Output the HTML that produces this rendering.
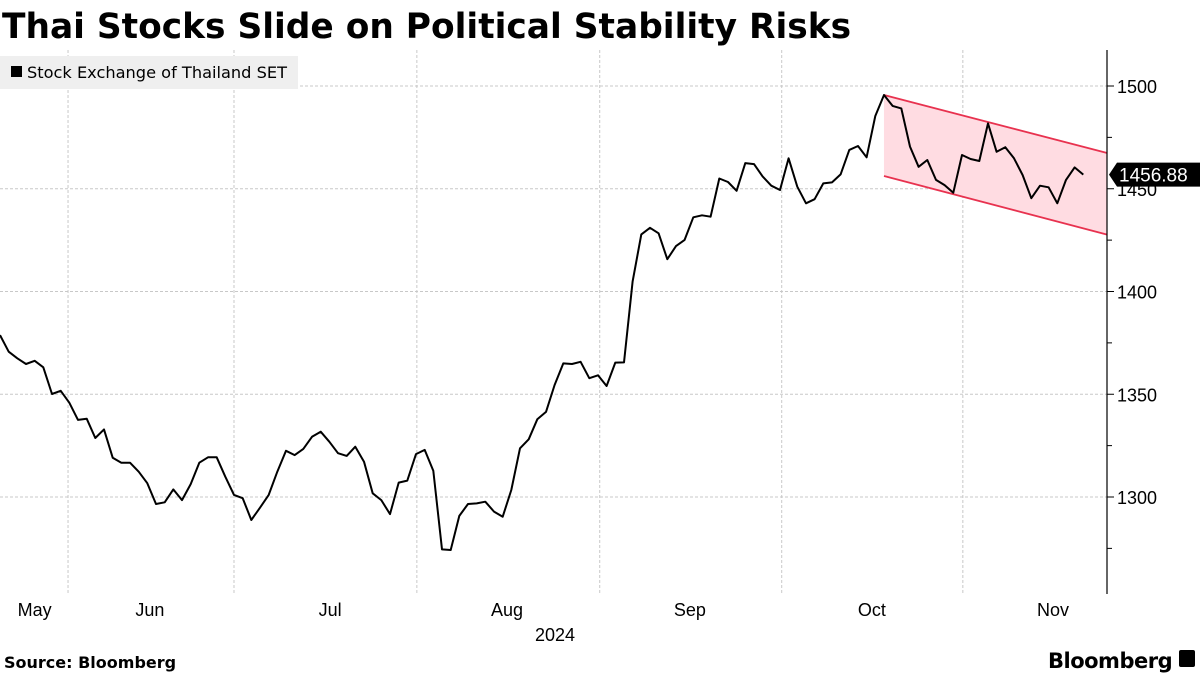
<!DOCTYPE html>
<html><head><meta charset="utf-8"><style>
body{margin:0;background:#fff;width:1200px;height:675px;overflow:hidden;font-family:"Liberation Sans",sans-serif}
svg{position:absolute;left:0;top:0}
</style></head><body>
<svg id="c" width="1200" height="675">
<text x="2" y="38" font-size="34.4" font-weight="bold" font-family="DejaVu Sans, Liberation Sans, sans-serif">Thai Stocks Slide on Political Stability Risks</text>
<g id="grid"></g>
<rect x="0" y="56" width="298" height="33" fill="#efefef"/>
<rect x="11" y="66" width="11" height="11" fill="#000"/>
<text x="27" y="78" font-size="16.2" font-family="DejaVu Sans, sans-serif">Stock Exchange of Thailand SET</text>
<g id="marks"></g>
<line x1="1107" y1="50" x2="1107" y2="594" stroke="#000" stroke-width="1.2"/>
<g id="yaxis"></g>
<g id="xaxis"></g>
<text x="555" y="641" font-size="18" text-anchor="middle">2024</text>
<text x="4" y="668" font-size="16" font-weight="bold" font-family="DejaVu Sans, sans-serif">Source: Bloomberg</text>
<text x="1048" y="668" font-size="21" font-weight="bold" font-family="DejaVu Sans, sans-serif" letter-spacing="-0.5">Bloomberg</text>
<rect x="1179" y="650" width="16" height="17" rx="2" fill="#000"/>
</svg>
<script>
const values=[1378.8,1370.7,1367.5,1364.7,1366.3,1363.1,1350.1,1351.7,1345.9,1337.5,1338.1,1328.7,1332.9,1319.1,1316.7,1316.7,1312.3,1306.7,1296.6,1297.4,1303.7,1298.5,1306.3,1316.7,1319.3,1319.3,1309.9,1301,1299.4,1288.8,1294.8,1301,1312.3,1322.5,1320.4,1323.4,1329.3,1331.8,1326.9,1321.3,1320,1324.5,1317.2,1301.8,1298.5,1291.7,1307,1308,1320.9,1322.9,1312.8,1274.5,1274.2,1290.8,1296.6,1296.9,1297.7,1292.9,1290.4,1303.4,1323.7,1328.1,1337.8,1341.4,1354.5,1365,1364.7,1365.8,1357.8,1359.2,1354,1365.4,1365.5,1404.8,1427.8,1431,1428.3,1415.7,1422.1,1425.1,1436.1,1437.1,1436.4,1455,1453.3,1449,1462.5,1462,1456,1451.5,1449.4,1464.8,1451,1442.9,1444.9,1452.6,1453.1,1457,1468.9,1470.8,1465.3,1485.4,1495.6,1490.3,1489.1,1470.5,1460.7,1464,1454.3,1451.8,1448.1,1466.4,1464.5,1463.5,1481.8,1468,1470.2,1464.8,1456.7,1445.4,1451.5,1450.7,1442.9,1454.3,1460.4,1456.88];
const yTicks=[1300,1350,1400,1450,1500];
const yMinorTicks=[1275,1325,1375,1425,1475];
const monthLabels=["May","Jun","Jul","Aug","Sep","Oct","Nov"];
const monthLabelIdx=[4,17.3,38.1,58.5,79.6,100.6,121.5];
const monthBoundaryIdx=[7.85,27,48.1,69.2,90.2,111.1];
const channelIdx=[102,127.75];
const channelUpper=[1495.6,1467.4];
const channelLower=[1456.2,1427.7];
const ns="http://www.w3.org/2000/svg";
const X=i=>i*1083.3/125;
const Y=v=>86+(1500-v)*2.055;
function mk(t,a,p){const e=document.createElementNS(ns,t);for(const k in a)e.setAttribute(k,a[k]);p.appendChild(e);return e;}
const grid=document.getElementById('grid'),marks=document.getElementById('marks'),ya=document.getElementById('yaxis'),xa=document.getElementById('xaxis');
yTicks.forEach(v=>{
 const l=mk('line',{x1:0,x2:1107,y1:Y(v),y2:Y(v),stroke:'#c8c8c8','stroke-dasharray':'3,2'},grid);
 
 
 const t=mk('line',{x1:1107,x2:1114,y1:Y(v),y2:Y(v),stroke:'#000'},ya);
 
 
 const tx=mk('text',{x:1117,y:Y(v)+7,'font-size':18},ya);tx.textContent=v;
 
 
});
yMinorTicks.forEach(v=>{
 const t=mk('line',{x1:1107,x2:1112,y1:Y(v),y2:Y(v),stroke:'#000'},ya);
 
 
});
monthBoundaryIdx.forEach(i=>{
 const l=mk('line',{x1:X(i),x2:X(i),y1:50,y2:594,stroke:'#c8c8c8','stroke-dasharray':'3,2'},grid);
 
 
});
monthLabels.forEach((m,k)=>{
 const t=mk('text',{x:X(monthLabelIdx[k]),y:616,'font-size':18,'text-anchor':'middle'},xa);t.textContent=m;
 
 
});
const x0=X(channelIdx[0]),x1=X(channelIdx[1]);
const poly=mk('polygon',{points:`${x0},${Y(channelUpper[0])} ${x1},${Y(channelUpper[1])} ${x1},${Y(channelLower[1])} ${x0},${Y(channelLower[0])}`,fill:'#ffdce2'},marks);


[[channelUpper,'channel-upper-line'],[channelLower,'channel-lower-line']].forEach(([a,n])=>{
 const l=mk('line',{x1:x0,x2:x1,y1:Y(a[0]),y2:Y(a[1]),stroke:'#e8324f','stroke-width':1.8},marks);
 
 
});
const path=mk('polyline',{points:values.map((v,i)=>X(i).toFixed(1)+','+Y(v).toFixed(1)).join(' '),fill:'none',stroke:'#000','stroke-width':2,'stroke-linejoin':'round'},marks);


const last=values[values.length-1],ly=Y(last);
const g=mk('g',{},ya);


mk('path',{d:`M1109,${ly} L1117,${ly-12} L1200,${ly-12} L1200,${ly+12} L1117,${ly+12} Z`,fill:'#000'},g);
const lt=mk('text',{x:1119,y:ly+7,'font-size':19,fill:'#fff'},g);lt.textContent=last.toFixed(2);
</script>
</body></html>
